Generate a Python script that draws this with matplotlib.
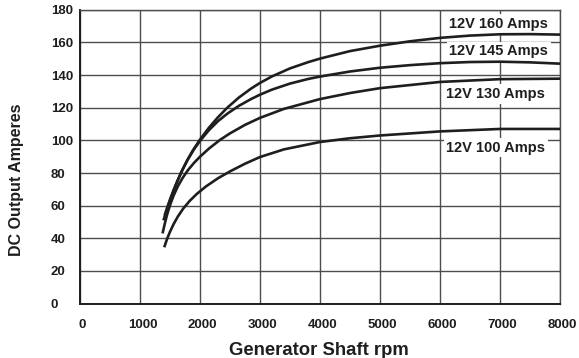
import matplotlib
matplotlib.use("Agg")
import matplotlib.pyplot as plt
import matplotlib.transforms as mtransforms

plt.rcParams['font.family'] = ['Liberation Sans', 'DejaVu Sans']

# curves (rpm, amps)
rpm_160 = [1390, 1430, 1480, 1540, 1610, 1690, 1780, 1880, 2000, 2150, 2300, 2460, 2650, 2850,
           3000, 3200, 3500, 3800, 4000, 4500, 5000, 5500, 6000, 6500, 7000, 7500, 8000]
amps_160 = [51, 55.5, 61, 67.2, 73.8, 80.6, 87.3, 93.8, 100.5, 107.8, 114.2, 120.2, 126.3, 131.7,
            135.2, 139.2, 144.1, 147.9, 150.1, 154.7, 158, 160.7, 162.8, 164.2, 165, 165.1, 164.8]

rpm_145 = [1410, 1450, 1500, 1560, 1630, 1710, 1800, 1900, 2000, 2150, 2300, 2460, 2650, 2850,
           3000, 3200, 3500, 3800, 4000, 4500, 5000, 5500, 6000, 6500, 7000, 7500, 8000]
amps_145 = [54, 58.5, 63.8, 69.6, 75.8, 82.2, 88.5, 94.5, 99.7, 106.3, 111.8, 116.5, 121.2, 125.3,
            128, 131.1, 134.8, 137.6, 139.1, 142.2, 144.5, 146.1, 147.3, 148, 148.2, 147.8, 147]

rpm_130 = [1376, 1410, 1450, 1500, 1560, 1630, 1710, 1800, 1900, 2000, 2150, 2330, 2500, 2750,
           3000, 3400, 4000, 4500, 5000, 6000, 7000, 8000]
amps_130 = [43, 48.5, 54.3, 60.3, 66.2, 71.8, 77, 81.8, 86.2, 90, 95, 100.2, 104.3, 109.5,
            113.8, 119.3, 125.3, 129, 132, 135.8, 137.5, 137.8]

rpm_100 = [1404, 1450, 1500, 1560, 1630, 1720, 1830, 1950, 2100, 2300, 2500, 2750, 3000, 3400,
           4000, 4500, 5000, 6000, 7000, 8000]
amps_100 = [34.5, 39.5, 44, 48.7, 53.3, 58.2, 63, 67.3, 71.8, 76.8, 81, 85.7, 89.8, 94.5,
            99, 101.3, 103, 105.5, 107, 107]

labels = ['12V 160 Amps', '12V 145 Amps', '12V 130 Amps', '12V 100 Amps']
label_x = [6982, 6982, 6932, 6932]
label_y = [171.3, 154.5, 128.4, 95.6]

x_ticks = [0, 1000, 2000, 3000, 4000, 5000, 6000, 7000, 8000]
y_ticks = [0, 20, 40, 60, 80, 100, 120, 140, 160, 180]

fig = plt.figure(figsize=(5.79, 3.58), dpi=100)
ax = fig.add_axes([80/579, 1-303.6/358, 480/579, 293.8/358])

line_col = '#1e1e1e'
for xs, ys in [(rpm_160, amps_160), (rpm_145, amps_145), (rpm_130, amps_130), (rpm_100, amps_100)]:
    ax.plot(xs, ys, color=line_col, lw=1.9, solid_capstyle='butt', solid_joinstyle='round', zorder=4)

for txt, lx, ly in zip(labels, label_x, label_y):
    ax.text(lx, ly, txt, ha='center', va='center', fontsize=10.5, fontweight='bold',
            color='#1e1e1e', zorder=3,
            bbox=dict(facecolor='white', edgecolor='none', pad=2.0))

ax.set_xlim(0, 8000)
ax.set_ylim(0, 180)
ax.set_xticks(x_ticks)
ax.set_yticks(y_ticks)
ax.grid(True, color='#4d4d4d', lw=1.0, zorder=1)
ax.set_axisbelow(True)

for s in ['top', 'right']:
    ax.spines[s].set_color('#4d4d4d')
    ax.spines[s].set_linewidth(1.0)
for s in ['left', 'bottom']:
    ax.spines[s].set_color('#1e1e1e')
    ax.spines[s].set_linewidth(1.4)

ax.tick_params(axis='both', length=0, labelsize=9.5, labelcolor='#1e1e1e')
ax.tick_params(axis='x', pad=11)
ax.tick_params(axis='y', pad=21)
shift = mtransforms.ScaledTranslation(2.5/100, 0, fig.dpi_scale_trans)
for lbl in ax.get_xticklabels():
    lbl.set_fontweight('bold')
    lbl.set_transform(lbl.get_transform() + shift)
for lbl in ax.get_yticklabels():
    lbl.set_fontweight('bold')
    lbl.set_ha('left')

ax.set_xlabel('Generator Shaft rpm', fontsize=13.3, fontweight='bold', color='#1e1e1e', va='center')
ax.xaxis.set_label_coords(0.497, -0.16)
ax.set_ylabel('DC Output Amperes', fontsize=11.5, fontweight='bold', color='#1e1e1e', va='center')
ax.yaxis.set_label_coords(-0.133, 0.42)

fig.savefig('out.png', dpi=100)
